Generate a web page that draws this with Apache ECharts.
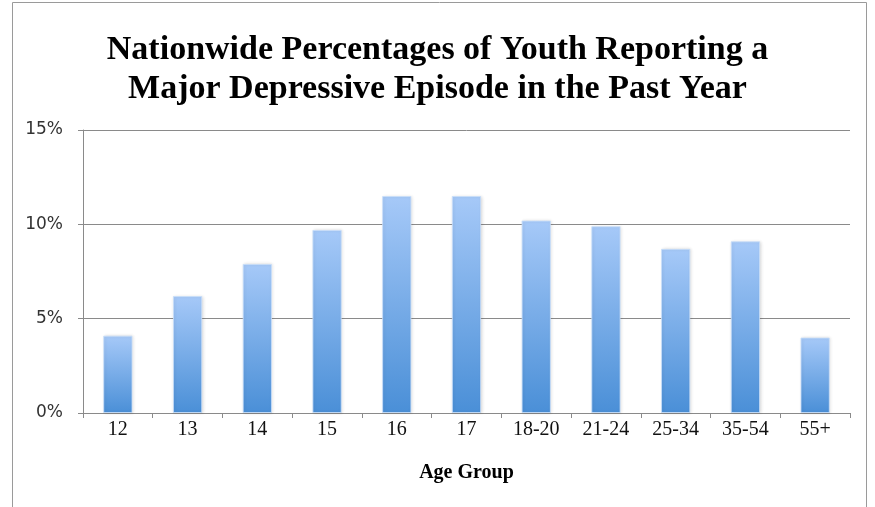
<!DOCTYPE html>
<html>
<head>
<meta charset="utf-8">
<script src="https://cdn.jsdelivr.net/npm/echarts@6/dist/echarts.min.js"></script>
<style>
  html, body { margin: 0; padding: 0; background: #fff; }
  #chart { width: 875px; height: 507px; }
</style>
</head>
<body>
<div id="chart"></div>
<script>
// Age groups and share of each group reporting a major depressive episode (%)
const ageGroups = ['12', '13', '14', '15', '16', '17', '18-20', '21-24', '25-34', '35-54', '55+'];
const mdePercent = [4.1, 6.2, 7.9, 9.7, 11.5, 11.5, 10.2, 9.9, 8.7, 9.1, 4.0];
const yTicks = [0, 5, 10, 15];

const chart = echarts.init(document.getElementById('chart'));

const serif = '"Liberation Serif", "DejaVu Serif", serif';

chart.setOption({
  animation: false,
  backgroundColor: '#fff',
  title: {
    text: 'Nationwide Percentages of Youth Reporting a\nMajor Depressive Episode in the Past Year',
    left: 'center',
    top: 26,
    textStyle: {
      fontFamily: serif,
      fontWeight: 'bold',
      fontSize: 34,
      lineHeight: 39,
      color: '#000'
    }
  },
  graphic: [
    // frame lines around the figure
    { type: 'line', shape: { x1: 12.5, y1: 2.5, x2: 866.5, y2: 2.5 }, style: { stroke: '#9a9a9a', lineWidth: 1 } },
    { type: 'line', shape: { x1: 12.5, y1: 2.5, x2: 12.5, y2: 507 }, style: { stroke: '#9a9a9a', lineWidth: 1 } },
    { type: 'line', shape: { x1: 866.5, y1: 2.5, x2: 866.5, y2: 507 }, style: { stroke: '#9a9a9a', lineWidth: 1 } }
  ],
  grid: { left: 83, right: 25, top: 130, bottom: 94, containLabel: false },
  xAxis: {
    type: 'category',
    data: ageGroups,
    name: 'Age Group',
    nameLocation: 'middle',
    nameGap: 50,
    nameTextStyle: { fontFamily: serif, fontWeight: 'bold', fontSize: 20, color: '#000' },
    axisLine: { lineStyle: { color: '#8a8a8a', width: 1 } },
    axisTick: { show: true, alignWithLabel: false, length: 5, lineStyle: { color: '#8a8a8a' } },
    axisLabel: { fontFamily: serif, fontSize: 20, color: '#111', margin: 7 }
  },
  yAxis: {
    type: 'value',
    min: yTicks[0],
    max: yTicks[yTicks.length - 1],
    interval: 5,
    axisLine: { show: true, lineStyle: { color: '#8a8a8a', width: 1 } },
    axisTick: { show: true, length: 5, lineStyle: { color: '#8a8a8a' } },
    splitLine: { lineStyle: { color: '#8a8a8a', width: 1 } },
    axisLabel: {
      fontFamily: '"DejaVu Sans", sans-serif',
      fontSize: 17,
      color: '#333',
      margin: 20,
      formatter: v => v + '%'
    }
  },
  series: [{
    type: 'bar',
    data: mdePercent,
    barWidth: '42%',
    itemStyle: {
      color: new echarts.graphic.LinearGradient(0, 0, 0, 1, [
        { offset: 0, color: '#a6c9f8' },
        { offset: 1, color: '#4a8fd7' }
      ]),
      borderColor: 'rgba(200,222,250,0.8)',
      borderWidth: 1,
      shadowColor: 'rgba(0,0,0,0.12)',
      shadowBlur: 3,
      shadowOffsetX: 1,
      shadowOffsetY: 0
    }
  }]
});
</script>
</body>
</html>
